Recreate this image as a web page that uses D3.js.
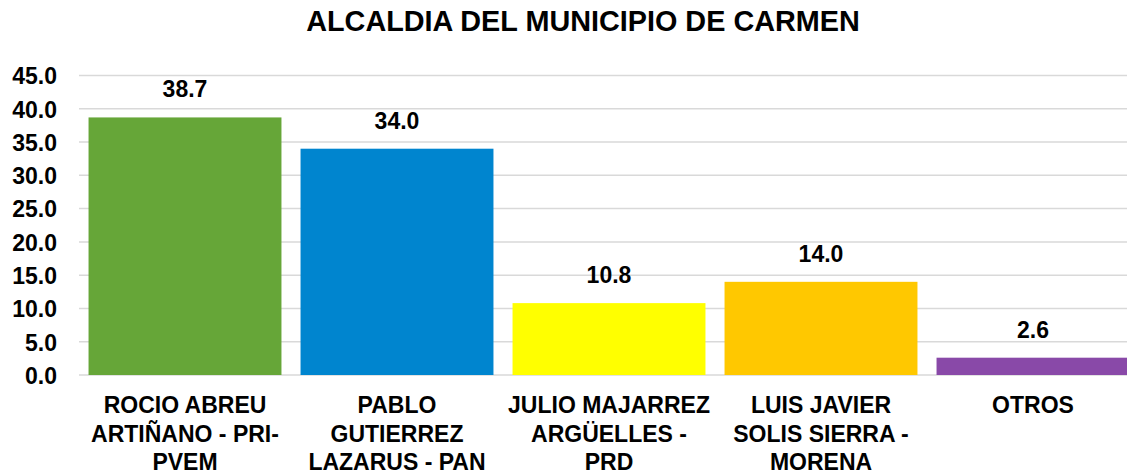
<!DOCTYPE html>
<html>
<head>
<meta charset="utf-8">
<script src="https://cdn.jsdelivr.net/npm/d3@7"></script>
<style>
  body { margin: 0; background: #fff; overflow: hidden; }
  svg { display: block; font-family: "Liberation Sans", Arial, sans-serif; font-weight: bold; }
</style>
</head>
<body>
<div id="chart"></div>
<script>
// data
var candidates = [
    ["ROCIO ABREU", "ARTIÑANO - PRI-", "PVEM"],
    ["PABLO", "GUTIERREZ", "LAZARUS - PAN"],
    ["JULIO MAJARREZ", "ARGÜELLES -", "PRD"],
    ["LUIS JAVIER", "SOLIS SIERRA -", "MORENA"],
    ["OTROS"]
];
var votes = [38.7, 34.0, 10.8, 14.0, 2.6];
var barColors = ["#66a638", "#0085cf", "#ffff00", "#ffc800", "#8949a8"];
var yTicks = [0, 5, 10, 15, 20, 25, 30, 35, 40, 45];
var chartTitle = "ALCALDIA DEL MUNICIPIO DE CARMEN";

function drawChart() {
    let W = 1127, H = 475;
    let svg = d3.select("#chart").append("svg")
        .attr("width", W)
        .attr("height", H);

    // plot area runs off the right edge like the original
    let x = d3.scaleBand()
        .domain(d3.range(votes.length))
        .range([79, 1139])
        .paddingInner(0.09)
        .paddingOuter(0.045);

    let y = d3.scaleLinear()
        .domain([0, 45])
        .range([375, 75.5]);

    // title
    svg.append("text")
        .attr("x", 583)
        .attr("y", 31)
        .attr("text-anchor", "middle")
        .style("font-size", "28.8px")
        .text(chartTitle);

    // gridlines
    svg.append("g")
        .selectAll("line")
        .data(yTicks)
        .enter()
        .append("line")
        .attr("x1", 79)
        .attr("x2", 1139)
        .attr("y1", d => y(d))
        .attr("y2", d => y(d))
        .attr("stroke", "#d9d9d9")
        .attr("stroke-width", 1.5);

    // y axis
    let yAxis = d3.axisLeft(y)
        .tickValues(yTicks)
        .tickFormat(d3.format(".1f"))
        .tickSize(0)
        .tickPadding(0);
    let ya = svg.append("g")
        .attr("transform", "translate(57,0)")
        .call(yAxis);
    ya.select(".domain").remove();
    ya.selectAll("text")
        .attr("fill", "#000")
        .attr("dy", "0.36em")
        .style("font-size", "23px")
        .style("font-family", "'Liberation Sans', Arial, sans-serif")
        .style("font-weight", "bold");

    // bars
    svg.append("g")
        .selectAll("rect")
        .data(votes)
        .enter()
        .append("rect")
        .attr("x", (d, i) => x(i))
        .attr("y", d => y(d))
        .attr("width", x.bandwidth())
        .attr("height", d => y(0) - y(d))
        .attr("fill", (d, i) => barColors[i]);

    // value labels
    svg.append("g")
        .selectAll("text")
        .data(votes)
        .enter()
        .append("text")
        .attr("x", (d, i) => x(i) + x.bandwidth() / 2)
        .attr("y", d => y(d) - 20)
        .attr("text-anchor", "middle")
        .style("font-size", "23px")
        .text(d => d.toFixed(1));

    // category labels (wrapped)
    let cat = svg.append("g")
        .selectAll("text")
        .data(candidates)
        .enter()
        .append("text")
        .attr("text-anchor", "middle")
        .style("font-size", "23px");
    cat.each(function (lines, i) {
        let t = d3.select(this);
        lines.forEach((ln, k) => {
            t.append("tspan")
                .attr("x", x(i) + x.bandwidth() / 2)
                .attr("y", 413 + k * 28.5)
                .text(ln);
        });
    });
}

drawChart();
</script>
</body>
</html>
